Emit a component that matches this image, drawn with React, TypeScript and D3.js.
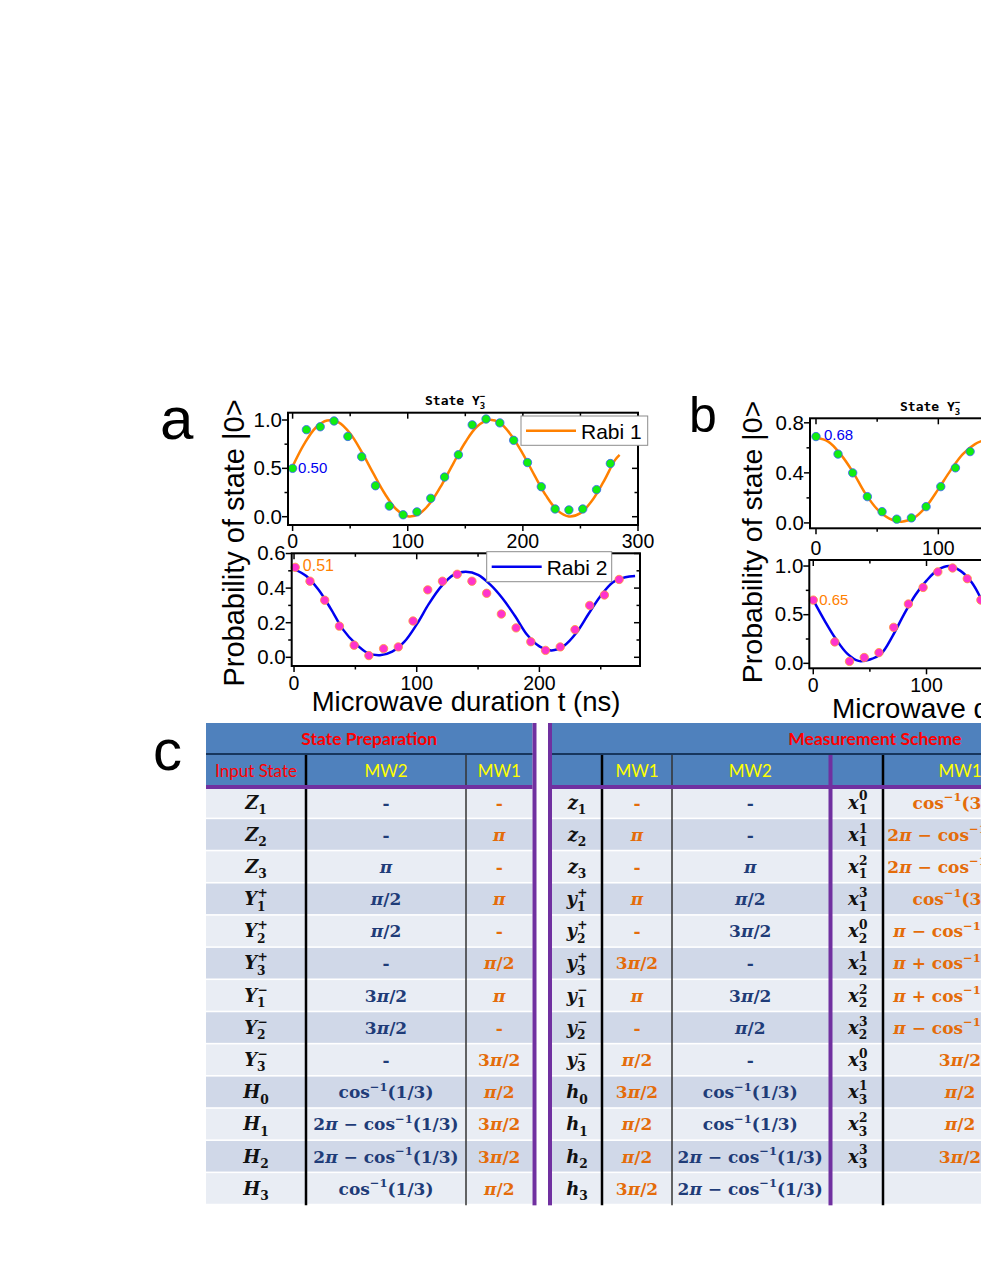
import React from 'react';
import * as d3 from 'd3';

// ---------- panel a, upper: Rabi 1 ----------
const a1T = [0, 12, 24, 36, 48, 60, 72, 84, 96, 108, 120, 132, 144, 156, 168, 180, 192, 204, 216, 228, 240, 252, 264, 276];
const a1P = [0.50, 0.90, 0.93, 0.99, 0.83, 0.62, 0.32, 0.11, 0.02, 0.05, 0.19, 0.41, 0.64, 0.95, 1.01, 0.97, 0.79, 0.56, 0.31, 0.08, 0.07, 0.08, 0.28, 0.55];
const a1FitT = [0, 10, 20, 30, 40, 50, 60, 70, 80, 90, 100, 110, 120, 130, 140, 150, 160, 170, 180, 190, 200, 210, 220, 230, 240, 250, 260, 270, 280, 284];
const a1Fit = [0.52, 0.75, 0.92, 0.995, 0.975, 0.86, 0.67, 0.45, 0.24, 0.077, 0.005, 0.03, 0.15, 0.34, 0.56, 0.77, 0.93, 1.0, 0.97, 0.84, 0.65, 0.43, 0.22, 0.065, 0.003, 0.037, 0.165, 0.36, 0.585, 0.64];

// ---------- panel a, lower: Rabi 2 ----------
const a2T = [1, 13, 25, 37, 49, 61, 73, 85, 97, 109, 121, 133, 145, 157, 169, 181, 193, 205, 217, 229, 241, 253, 265];
const a2P = [0.52, 0.44, 0.33, 0.18, 0.07, 0.01, 0.05, 0.06, 0.21, 0.39, 0.44, 0.48, 0.44, 0.37, 0.25, 0.17, 0.09, 0.04, 0.06, 0.16, 0.30, 0.36, 0.45];
const a2FitT = [0, 10, 20, 30, 40, 50, 60, 70, 80, 90, 100, 110, 120, 130, 140, 150, 160, 170, 180, 190, 200, 210, 220, 230, 240, 250, 260, 270, 278];
const a2Fit = [0.51, 0.47, 0.39, 0.28, 0.16, 0.08, 0.025, 0.012, 0.033, 0.09, 0.19, 0.31, 0.41, 0.477, 0.494, 0.477, 0.42, 0.34, 0.24, 0.13, 0.063, 0.04, 0.066, 0.14, 0.25, 0.356, 0.434, 0.463, 0.47];

// ---------- panel b, upper ----------
const b1T = [0, 18, 30, 42, 54, 66, 78, 90, 102, 114, 126];
const b1P = [0.69, 0.55, 0.40, 0.21, 0.09, 0.03, 0.04, 0.13, 0.29, 0.44, 0.57];
const b1FitT = [0, 10, 20, 30, 40, 50, 60, 70, 80, 90, 100, 110, 120, 130, 140];
const b1Fit = [0.68, 0.65, 0.55, 0.41, 0.24, 0.11, 0.035, 0.01, 0.04, 0.13, 0.27, 0.42, 0.55, 0.63, 0.67];

// ---------- panel b, lower ----------
const b2T = [0, 19, 32, 45, 58, 71, 84, 97, 110, 123, 136, 148];
const b2P = [0.65, 0.22, 0.02, 0.06, 0.11, 0.37, 0.61, 0.78, 0.94, 0.98, 0.87, 0.65];
const b2FitT = [0, 10, 20, 30, 40, 50, 60, 70, 80, 90, 100, 110, 120, 130, 140, 150];
const b2Fit = [0.65, 0.44, 0.25, 0.10, 0.025, 0.04, 0.10, 0.28, 0.50, 0.70, 0.85, 0.96, 1.0, 0.95, 0.83, 0.62];

// ---------- table c ----------
const leftHead = ['Input State', 'MW2', 'MW1'];
const leftLabels = ['Z_{1}', 'Z_{2}', 'Z_{3}', 'Y_{1}^{+}', 'Y_{2}^{+}', 'Y_{3}^{+}', 'Y_{1}^{−}', 'Y_{2}^{−}', 'Y_{3}^{−}', 'H_{0}', 'H_{1}', 'H_{2}', 'H_{3}'];
const leftMW2 = ['-', '-', 'π', 'π/2', 'π/2', '-', '3π/2', '3π/2', '-', 'cos^{−1}(1/3)', '2π − cos^{−1}(1/3)', '2π − cos^{−1}(1/3)', 'cos^{−1}(1/3)'];
const leftMW1 = ['-', 'π', '-', 'π', '-', 'π/2', 'π', '-', '3π/2', 'π/2', '3π/2', '3π/2', 'π/2'];

const rightHead = ['', 'MW1', 'MW2', '', 'MW1', 'MW2'];
const rightLabels = ['z_{1}', 'z_{2}', 'z_{3}', 'y_{1}^{+}', 'y_{2}^{+}', 'y_{3}^{+}', 'y_{1}^{−}', 'y_{2}^{−}', 'y_{3}^{−}', 'h_{0}', 'h_{1}', 'h_{2}', 'h_{3}'];
const rightMW1 = ['-', 'π', '-', 'π', '-', '3π/2', 'π', '-', 'π/2', '3π/2', 'π/2', 'π/2', '3π/2'];
const rightMW2 = ['-', '-', 'π', 'π/2', '3π/2', '-', '3π/2', 'π/2', '-', 'cos^{−1}(1/3)', 'cos^{−1}(1/3)', '2π − cos^{−1}(1/3)', '2π − cos^{−1}(1/3)'];
const xLabels = ['x_{1}^{0}', 'x_{1}^{1}', 'x_{1}^{2}', 'x_{1}^{3}', 'x_{2}^{0}', 'x_{2}^{1}', 'x_{2}^{2}', 'x_{2}^{3}', 'x_{3}^{0}', 'x_{3}^{1}', 'x_{3}^{2}', 'x_{3}^{3}', ''];
const xMW1 = ['cos^{−1}(3/3)', '2π − cos^{−1}(1/3)', '2π − cos^{−1}(1/3)', 'cos^{−1}(3/3)', 'π − cos^{−1}(1/3)', 'π + cos^{−1}(1/3)', 'π + cos^{−1}(1/3)', 'π − cos^{−1}(1/3)', '3π/2', 'π/2', 'π/2', '3π/2', ''];

const SANS = "'Liberation Sans', Arial, sans-serif";
const SERIF = "'DejaVu Serif', serif";
const MONO = "'DejaVu Sans Mono', monospace";
const HEAD = "Lato, 'Open Sans', sans-serif";
const ORANGE = '#ff8000';
const BLUE = '#0000f0';
const NAVY = '#1f3c78';
const CELL_ORANGE = '#e46c0a';

// tiny markup: ^{..} superscript, _{..} subscript
function parseMath(s: string) {
  const segs: { t: string; k: 'n' | 'sup' | 'sub' }[] = [];
  const re = /([\^_])\{([^}]*)\}/g;
  let last = 0;
  let m: RegExpExecArray | null;
  while ((m = re.exec(s))) {
    if (m.index > last) segs.push({ t: s.slice(last, m.index), k: 'n' });
    segs.push({ t: m[2], k: m[1] === '^' ? 'sup' : 'sub' });
    last = re.lastIndex;
  }
  if (last < s.length) segs.push({ t: s.slice(last), k: 'n' });
  return segs;
}

function runs(t: string, isItalic: (c: string) => boolean) {
  const out: { t: string; it: boolean }[] = [];
  for (const c of t) {
    const it = isItalic(c);
    if (out.length && out[out.length - 1].it === it) out[out.length - 1].t += c;
    else out.push({ t: c, it });
  }
  return out;
}

function MathText({ s, x, y, size, fill, label }: { s: string; x: number; y: number; size: number; fill: string; label?: boolean }) {
  const segs = parseMath(s);
  const isIt = label ? (c: string) => /[A-Za-z]/.test(c) : (c: string) => c === 'π';
  const spans: React.ReactNode[] = [];
  let off = 0;
  segs.forEach((seg, i) => {
    const small = seg.k !== 'n';
    const fs = small ? size * 0.68 : size;
    const target = seg.k === 'sup' ? -0.45 * size : seg.k === 'sub' ? 0.3 * size : 0;
    const prev = segs[i - 1];
    let dx = 0;
    if (prev && prev.k !== 'n' && small && prev.k !== seg.k) dx = -prev.t.length * size * 0.68 * 0.66;
    runs(seg.t, isIt).forEach((r, j) => {
      spans.push(
        <tspan key={`${i}-${j}`} dx={j === 0 && dx ? dx : undefined} dy={j === 0 && target !== off ? target - off : undefined}
          fontSize={fs} fontStyle={r.it ? 'italic' : 'normal'}>{r.t}</tspan>
      );
    });
    off = target;
  });
  return (
    <text x={x} y={y} textAnchor="middle" fill={fill} fontFamily={SERIF} fontWeight="bold" style={{ whiteSpace: 'pre' }}>{spans}</text>
  );
}

type PanelProps = {
  frame: [number, number, number, number];
  xDom: [number, number];
  yDom: [number, number];
  xMajor: number[]; xMinor: number[]; yMajor: number[]; yMinor: number[];
  xLabDy: number;
  t: number[]; p: number[]; fitT: number[]; fit: number[];
  lineColor: string; dotFill: string; dotStroke: string;
  legend?: { box: [number, number, number, number]; label: string };
  note: { text: string; color: string; dx: number; dy: number; size: number };
};

function Panel(pr: PanelProps) {
  const [L, T, R, B] = pr.frame;
  const x = d3.scaleLinear().domain(pr.xDom).range([L, R]);
  const y = d3.scaleLinear().domain(pr.yDom).range([B, T]);
  const line = d3.line<number>().x((_, i) => x(pr.fitT[i])).y(d => y(d)).curve(d3.curveCatmullRom.alpha(0.5));
  const fmt = d3.format('.1f');
  const inX = (v: number) => x(v) >= L - 0.5 && x(v) <= R + 0.5;
  return (
    <g>
      {pr.xMajor.filter(inX).map(v => (
        <g key={'xm' + v}>
          <line x1={x(v)} x2={x(v)} y1={B} y2={B + 6} stroke="#000" strokeWidth={1.5} />
          <line x1={x(v)} x2={x(v)} y1={T} y2={T + 6} stroke="#000" strokeWidth={1.5} />
          <text x={x(v)} y={B + pr.xLabDy} textAnchor="middle" fontFamily={SANS} fontSize={19.5}>{v}</text>
        </g>
      ))}
      {pr.xMinor.filter(inX).map(v => (
        <g key={'xn' + v}>
          <line x1={x(v)} x2={x(v)} y1={B} y2={B + 3.5} stroke="#000" strokeWidth={1.5} />
          <line x1={x(v)} x2={x(v)} y1={T} y2={T + 3.5} stroke="#000" strokeWidth={1.5} />
        </g>
      ))}
      {pr.yMajor.map(v => (
        <g key={'ym' + v}>
          <line x1={L - 6} x2={L} y1={y(v)} y2={y(v)} stroke="#000" strokeWidth={1.5} />
          <line x1={R - 6} x2={R} y1={y(v)} y2={y(v)} stroke="#000" strokeWidth={1.5} />
          <text x={L - 6} y={y(v) + 6.8} textAnchor="end" fontFamily={SANS} fontSize={20.5}>{fmt(v)}</text>
        </g>
      ))}
      {pr.yMinor.map(v => (
        <g key={'yn' + v}>
          <line x1={L - 3.5} x2={L} y1={y(v)} y2={y(v)} stroke="#000" strokeWidth={1.5} />
          <line x1={R - 3.5} x2={R} y1={y(v)} y2={y(v)} stroke="#000" strokeWidth={1.5} />
        </g>
      ))}
      <path d={line(pr.fit) || ''} fill="none" stroke={pr.lineColor} strokeWidth={2.5} />
      {pr.t.map((t, i) => (
        <circle key={'p' + i} cx={x(t)} cy={y(pr.p[i])} r={4.2} fill={pr.dotFill} stroke={pr.dotStroke} strokeWidth={0.8} />
      ))}
      <rect x={L} y={T} width={R - L} height={B - T} fill="none" stroke="#000" strokeWidth={2} />
      <text x={x(pr.t[0]) + pr.note.dx} y={y(pr.p[0]) + pr.note.dy} fill={pr.note.color} fontFamily={SANS} fontSize={pr.note.size}>{pr.note.text}</text>
      {pr.legend && (
        <g>
          <rect x={pr.legend.box[0]} y={pr.legend.box[1]} width={pr.legend.box[2]} height={pr.legend.box[3]} fill="#fff" stroke="#8c8c8c" strokeWidth={1} />
          <line x1={pr.legend.box[0] + 5} x2={pr.legend.box[0] + 55} y1={pr.legend.box[1] + pr.legend.box[3] / 2} y2={pr.legend.box[1] + pr.legend.box[3] / 2} stroke={pr.lineColor} strokeWidth={2.5} />
          <text x={pr.legend.box[0] + 60} y={pr.legend.box[1] + pr.legend.box[3] / 2 + 8} fontFamily={SANS} fontSize={21}>{pr.legend.label}</text>
        </g>
      )}
    </g>
  );
}

function Title({ x, y }: { x: number; y: number }) {
  return (
    <text x={x} y={y} fontFamily={MONO} fontWeight="bold" fontSize={13} style={{ whiteSpace: 'pre' }}>
      State Y<tspan fontSize={9} dy={4}>3</tspan><tspan fontSize={9} dx={-5.5} dy={-10}>−</tspan>
    </text>
  );
}

// table layout
const TOP = 723, H1 = 30, H2 = 755, H2B = 785, ROW0 = 787, ROWH = 32.18, BOT = ROW0 + 13 * ROWH;
const leftCols = [206, 306, 466, 532.5];
const rightCols = [552, 602, 672, 828.5, 832.5, 883, 1037, 1198];

function Table() {
  const rowFill = (i: number) => (i % 2 === 0 ? '#e9edf4' : '#d0d8e8');
  const rows = d3.range(13);
  const lc = (i: number) => (leftCols[i] + leftCols[i + 1]) / 2;
  // right columns: label, MW1, MW2, [purple], xlabel, MW1, MW2
  const rEdges = [rightCols[0], rightCols[1], rightCols[2], rightCols[3], rightCols[5], rightCols[6], rightCols[7]];
  const rStart = [rightCols[0], rightCols[1], rightCols[2], rightCols[4], rightCols[5], rightCols[6]];
  const rc = (i: number) => (rStart[i] + rEdges[i + 1]) / 2;
  const by = (i: number) => ROW0 + i * ROWH + ROWH / 2 + 5.5;
  return (
    <g>
      <rect x={leftCols[0]} y={TOP} width={leftCols[3] - leftCols[0]} height={H2B - TOP} fill="#4f81bd" />
      <rect x={rightCols[0]} y={TOP} width={rightCols[7] - rightCols[0]} height={H2B - TOP} fill="#4f81bd" />
      {rows.map(i => (
        <g key={'r' + i}>
          <rect x={leftCols[0]} y={ROW0 + i * ROWH} width={leftCols[3] - leftCols[0]} height={ROWH - 1.6} fill={rowFill(i)} />
          <rect x={rightCols[0]} y={ROW0 + i * ROWH} width={rightCols[7] - rightCols[0]} height={ROWH - 1.6} fill={rowFill(i)} />
        </g>
      ))}
      <rect x={leftCols[0]} y={TOP + H1} width={leftCols[3] - leftCols[0]} height={2} fill="#17365d" />
      <rect x={rightCols[0]} y={TOP + H1} width={rightCols[7] - rightCols[0]} height={2} fill="#17365d" />
      <line x1={leftCols[1]} x2={leftCols[1]} y1={H2} y2={BOT} stroke="#000" strokeWidth={2.5} />
      <line x1={leftCols[2]} x2={leftCols[2]} y1={H2} y2={BOT} stroke="#333" strokeWidth={1.5} />
      <line x1={rightCols[1]} x2={rightCols[1]} y1={H2} y2={BOT} stroke="#000" strokeWidth={2.5} />
      <line x1={rightCols[2]} x2={rightCols[2]} y1={H2} y2={BOT} stroke="#333" strokeWidth={1.5} />
      <rect x={rightCols[3]} y={H2} width={4} height={BOT - H2} fill="#7030a0" />
      <line x1={rightCols[5]} x2={rightCols[5]} y1={H2} y2={BOT} stroke="#000" strokeWidth={2.5} />
      <line x1={rightCols[6]} x2={rightCols[6]} y1={H2} y2={BOT} stroke="#333" strokeWidth={1.5} />
      <rect x={leftCols[0]} y={H2B} width={leftCols[3] - leftCols[0]} height={4} fill="#7030a0" />
      <rect x={rightCols[0]} y={H2B} width={rightCols[7] - rightCols[0]} height={4} fill="#7030a0" />
      <rect x={leftCols[3]} y={TOP} width={4} height={BOT - TOP} fill="#7030a0" />
      <rect x={rightCols[0] - 4} y={TOP} width={4} height={BOT - TOP} fill="#7030a0" />
      <text x={(leftCols[0] + leftCols[3]) / 2} y={745} textAnchor="middle" fill="#ff0000" fontFamily={HEAD} fontWeight="bold" fontSize={17.5}>State Preparation</text>
      <text x={(rightCols[0] + rightCols[7]) / 2} y={745} textAnchor="middle" fill="#ff0000" fontFamily={HEAD} fontWeight="bold" fontSize={17.5}>Measurement Scheme</text>
      {leftHead.map((h, i) => (
        <text key={'lh' + i} x={lc(i)} y={777} textAnchor="middle" fill={i === 0 ? '#ff0000' : '#ffff00'} fontFamily={HEAD} fontSize={17}>{h}</text>
      ))}
      {rightHead.map((h, i) => (
        <text key={'rh' + i} x={rc(i)} y={777} textAnchor="middle" fill="#ffff00" fontFamily={HEAD} fontSize={17}>{h}</text>
      ))}
      {rows.map(i => (
        <g key={'c' + i}>
          <MathText s={leftLabels[i]} x={lc(0)} y={by(i)} size={18} fill="#111" label />
          <MathText s={leftMW2[i]} x={lc(1)} y={by(i)} size={17} fill={NAVY} />
          <MathText s={leftMW1[i]} x={lc(2)} y={by(i)} size={17} fill={CELL_ORANGE} />
          <MathText s={rightLabels[i]} x={rc(0)} y={by(i)} size={18} fill="#111" label />
          <MathText s={rightMW1[i]} x={rc(1)} y={by(i)} size={17} fill={CELL_ORANGE} />
          <MathText s={rightMW2[i]} x={rc(2)} y={by(i)} size={17} fill={NAVY} />
          <MathText s={xLabels[i]} x={rc(3)} y={by(i)} size={18} fill="#111" label />
          <MathText s={xMW1[i]} x={rc(4)} y={by(i)} size={17} fill={CELL_ORANGE} />
        </g>
      ))}
    </g>
  );
}

export default function App() {
  return (
    <svg width={981} height={1269} style={{ position: 'absolute', left: 0, top: 0, background: '#fff' }}>
      <rect width={981} height={1269} fill="#fff" />
      <text x={160} y={439} fontFamily={SANS} fontSize={60}>a</text>
      <text x={689} y={432} fontFamily={SANS} fontSize={50}>b</text>
      <text x={153} y={770} fontFamily={SANS} fontSize={58}>c</text>

      <Title x={425} y={405} />
      <Title x={900} y={411} />

      <Panel frame={[288, 412.7, 638, 525]} xDom={[-4, 300]} yDom={[-0.0858, 1.0755]}
        xMajor={[0, 100, 200, 300]} xMinor={[50, 150, 250]} yMajor={[0, 0.5, 1.0]} yMinor={[0.25, 0.75]} xLabDy={22.5}
        t={a1T} p={a1P} fitT={a1FitT} fit={a1Fit} lineColor={ORANGE} dotFill="#11ee11" dotStroke="#3a5cff"
        legend={{ box: [521, 416, 126.7, 29.3], label: 'Rabi 1' }}
        note={{ text: '0.50', color: BLUE, dx: 5.5, dy: 4.5, size: 15 }} />
      <Panel frame={[291.7, 553.3, 640, 666]} xDom={[-1.9, 282]} yDom={[-0.0503, 0.6012]}
        xMajor={[0, 100, 200]} xMinor={[50, 150, 250]} yMajor={[0, 0.2, 0.4, 0.6]} yMinor={[0.1, 0.3, 0.5]} xLabDy={24}
        t={a2T} p={a2P} fitT={a2FitT} fit={a2Fit} lineColor={BLUE} dotFill="#ff33cc" dotStroke="#ff9933"
        legend={{ box: [486.7, 551.7, 125, 30], label: 'Rabi 2' }}
        note={{ text: '0.51', color: ORANGE, dx: 7.6, dy: 4, size: 16 }} />
      <Panel frame={[810, 418.3, 1183, 528.3]} xDom={[-4.9, 300]} yDom={[-0.043, 0.836]}
        xMajor={[0, 100, 200, 300]} xMinor={[50, 150, 250]} yMajor={[0, 0.4, 0.8]} yMinor={[0.2, 0.6]} xLabDy={26.5}
        t={b1T} p={b1P} fitT={b1FitT} fit={b1Fit} lineColor={ORANGE} dotFill="#11ee11" dotStroke="#3a5cff"
        note={{ text: '0.68', color: BLUE, dx: 8, dy: 3.5, size: 15 }} />
      <Panel frame={[809.3, 560, 1153, 668.3]} xDom={[-3.5, 300]} yDom={[-0.051, 1.062]}
        xMajor={[0, 100, 200, 300]} xMinor={[50, 150, 250]} yMajor={[0, 0.5, 1.0]} yMinor={[0.25, 0.75]} xLabDy={23.4}
        t={b2T} p={b2P} fitT={b2FitT} fit={b2Fit} lineColor={BLUE} dotFill="#ff33cc" dotStroke="#ff9933"
        note={{ text: '0.65', color: ORANGE, dx: 6, dy: 5, size: 15 }} />

      <text transform="translate(244,543) rotate(-90)" textAnchor="middle" fontFamily={SANS} fontSize={29}>Probability of state |0&gt;</text>
      <text transform="translate(762,542) rotate(-90)" textAnchor="middle" fontFamily={SANS} fontSize={28.5}>Probability of state |0&gt;</text>
      <text x={466} y={711} textAnchor="middle" fontFamily={SANS} fontSize={27.5}>Microwave duration t (ns)</text>
      <text x={832} y={718} fontFamily={SANS} fontSize={28}>Microwave duration t (ns)</text>

      <Table />
    </svg>
  );
}
